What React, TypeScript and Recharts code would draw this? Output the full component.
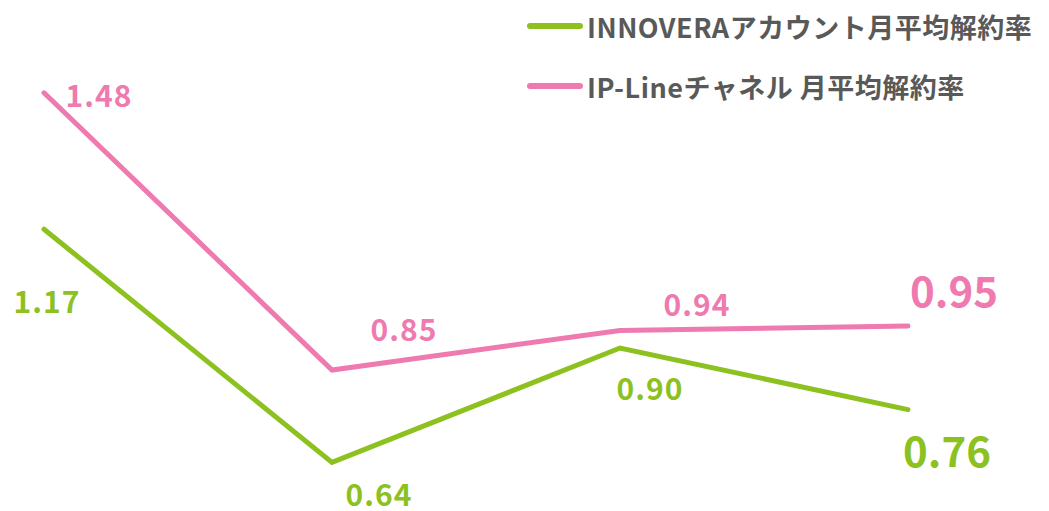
import { LineChart, Line, XAxis, YAxis, LabelList } from "recharts";

const categories = ["P1", "P2", "P3", "P4"];
const innoveraRate = [1.17, 0.64, 0.9, 0.76];
const ipLineRate = [1.48, 0.85, 0.94, 0.95];

const seriesNames = ["INNOVERAアカウント月平均解約率", "IP-Lineチャネル 月平均解約率"];

const GREEN = "#8cc11f";
const PINK = "#ee7aaf";
const FONT = "'Noto Sans CJK JP', 'Noto Sans', sans-serif";

const data = categories.map((c, i) => ({
  name: c,
  innovera: innoveraRate[i],
  ipline: ipLineRate[i],
}));

// label offsets from each point (dx, dy to text center)
const greenOffsets = [
  [3, 71],
  [47, 31],
  [30, 39],
  [39, 39],
];
const pinkOffsets = [
  [55, 1],
  [72, -42],
  [77, -27],
  [46, -38],
];

const makeLabel =
  (color: string, offsets: number[][]) =>
  (props: any) => {
    const { x, y, value, index } = props;
    const [dx, dy] = offsets[index];
    const last = index === categories.length - 1;
    return (
      <text
        x={x + dx}
        y={y + dy}
        fill={color}
        textAnchor="middle"
        dominantBaseline="central"
        fontFamily={FONT}
        fontWeight={700}
        fontSize={last ? 42 : 30}
        letterSpacing={last ? 0 : 1}
      >
        {Number(value).toFixed(2)}
      </text>
    );
  };

const LegendBox = () => (
  <div
    style={{
      position: "absolute",
      left: 527,
      top: 6,
      fontFamily: FONT,
      fontWeight: 700,
      color: "#595959",
      fontSize: 27,
      letterSpacing: 0.5,
      whiteSpace: "nowrap",
    }}
  >
    {seriesNames.map((n, i) => (
      <div
        key={n}
        style={{ display: "flex", alignItems: "center", height: 40, marginBottom: i === 0 ? 20 : 0 }}
      >
        <span
          style={{
            display: "inline-block",
            width: 56,
            height: 6,
            borderRadius: 3,
            background: i === 0 ? GREEN : PINK,
            marginRight: 4,
          }}
        />
        <span>{n}</span>
      </div>
    ))}
  </div>
);

export default function App() {
  return (
    <div style={{ position: "absolute", left: 0, top: 0, width: 1049, height: 511, background: "#fff" }}>
      <LineChart
        width={1049}
        height={511}
        data={data}
        margin={{ top: 40, right: 141, bottom: 9, left: 44 }}
      >
        <XAxis dataKey="name" hide />
        <YAxis hide domain={[0.55, 1.6]} />
        <Line
          type="linear"
          dataKey="innovera"
          stroke={GREEN}
          strokeWidth={5}
          strokeLinecap="round"
          dot={false}
          isAnimationActive={false}
        >
          <LabelList dataKey="innovera" content={makeLabel(GREEN, greenOffsets)} />
        </Line>
        <Line
          type="linear"
          dataKey="ipline"
          stroke={PINK}
          strokeWidth={5}
          strokeLinecap="round"
          dot={false}
          isAnimationActive={false}
        >
          <LabelList dataKey="ipline" content={makeLabel(PINK, pinkOffsets)} />
        </Line>
      </LineChart>
      <LegendBox />
    </div>
  );
}
